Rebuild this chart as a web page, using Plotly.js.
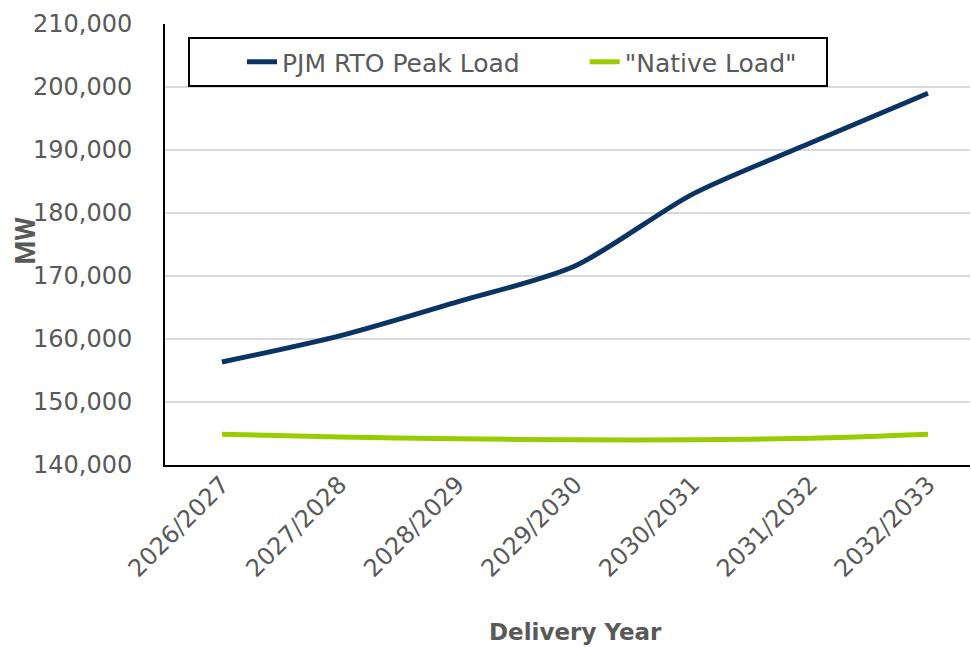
<!DOCTYPE html>
<html>
<head>
<meta charset="utf-8">
<script src="https://cdn.plot.ly/plotly-3.0.1.min.js"></script>
<style>html,body{margin:0;padding:0;background:#fff;}#chart{width:971px;height:647px;}</style>
</head>
<body>
<div id="chart"></div>
<script>
const categories = ["2026/2027","2027/2028","2028/2029","2029/2030","2030/2031","2031/2032","2032/2033"];
const peakLoad = [156350, 160500, 165900, 171600, 183000, 191100, 199000];
const nativeLoad = [144900, 144450, 144150, 144000, 144000, 144250, 144900];
const yTickVals = [140000,150000,160000,170000,180000,190000,200000,210000];
const yTickText = ["140,000","150,000","160,000","170,000","180,000","190,000","200,000","210,000"];
const seriesNames = ["PJM RTO Peak Load", "\"Native Load\""];

const traces = [
  {x: categories, y: peakLoad, name: seriesNames[0] + "\u00a0", type: "scatter", mode: "lines",
   line: {color: "#0b3363", width: 5, shape: "spline", smoothing: 0.8}},
  {x: categories, y: nativeLoad, name: seriesNames[1] + "\u00a0\u00a0\u00a0", type: "scatter", mode: "lines",
   line: {color: "#99cc00", width: 5, shape: "spline", smoothing: 0.8}}
];

const layout = {
  width: 971, height: 647,
  margin: {l: 165, r: 1, t: 24, b: 182},
  paper_bgcolor: "#fff", plot_bgcolor: "#fff",
  showlegend: true,
  legend: {
    orientation: "h", x: 0.0286, y: 0.9705, xanchor: "left", yanchor: "top",
    bordercolor: "#000", borderwidth: 2, bgcolor: "#fff",
    font: {family: "DejaVu Sans", size: 25, color: "#595959"},
    indentation: 52
  },
  xaxis: {
    type: "category",
    range: [-0.484, 6.357],
    tickangle: -45,
    tickfont: {family: "DejaVu Sans", size: 24, color: "#595959"},
    ticklabelstandoff: -6,
    showgrid: false, showline: true, linecolor: "#000", linewidth: 2,
    ticks: "", zeroline: false
  },
  yaxis: {
    range: [140000, 210000],
    tickvals: yTickVals, ticktext: yTickText,
    tickfont: {family: "DejaVu Sans", size: 24, color: "#595959"},
    showgrid: true, gridcolor: "#d9d9d9", gridwidth: 2,
    showline: true, linecolor: "#000", linewidth: 2,
    ticks: "outside", ticklen: 26, tickcolor: "rgba(0,0,0,0)", zeroline: false
  },
  annotations: [{
    text: "<b>MW</b>", xref: "paper", yref: "paper", x: 0, y: 0.5,
    xanchor: "center", yanchor: "middle", xshift: -140, yshift: 4,
    textangle: -90, showarrow: false,
    font: {family: "Roboto", size: 27, color: "#595959"}
  }, {
    text: "<b>Delivery Year</b>", xref: "paper", yref: "paper", x: 0.5, y: 0,
    xanchor: "center", yanchor: "middle", xshift: 8, yshift: -167,
    showarrow: false,
    font: {family: "DejaVu Sans", size: 23, color: "#595959"}
  }]
};

Plotly.newPlot("chart", traces, layout, {displayModeBar: false, staticPlot: true});
</script>
</body>
</html>
